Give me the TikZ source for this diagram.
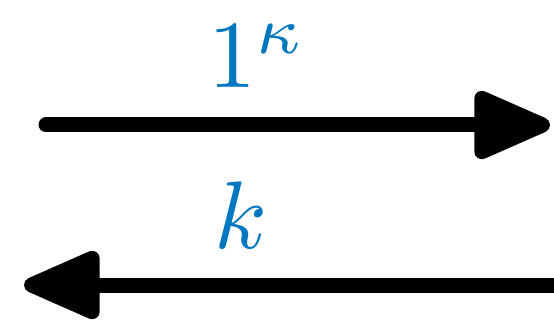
\documentclass[tikz,border=0pt]{standalone}
\usepackage{amsmath}
\usepackage{xcolor}
\usepackage{graphicx}
\usepackage{tikz}
\usetikzlibrary{arrows.meta,positioning}

\definecolor{labelblue}{RGB}{0,119,190}
\newcommand{\biglbl}[1]{\scalebox{9.6}{#1}}

\begin{document}
\begin{tikzpicture}[
  x=1pt, y=-1pt,
  map/.style={line width=15pt, line cap=round, -{Triangle[length=88pt,width=72pt,round]}},
  lbl/.style={text=labelblue, inner sep=0pt, anchor=base}
]
\useasboundingbox (0,0) rectangle (554,323);

% Ends of the two maps
\coordinate (topStart) at (46,125);
\coordinate (topEnd) at (550,125);
\coordinate (botStart) at (562,285);
\coordinate (botEnd) at (24,285);

% Maps
\draw[map] (topStart) -- (topEnd);
\draw[map] (botStart) -- (botEnd);

% Labels
\node[lbl] (topLabel) at (257,88) {\biglbl{$1^\kappa$}};
\node[lbl] (botLabel) at (241,248) {\biglbl{$k$}};

\end{tikzpicture}
\end{document}
